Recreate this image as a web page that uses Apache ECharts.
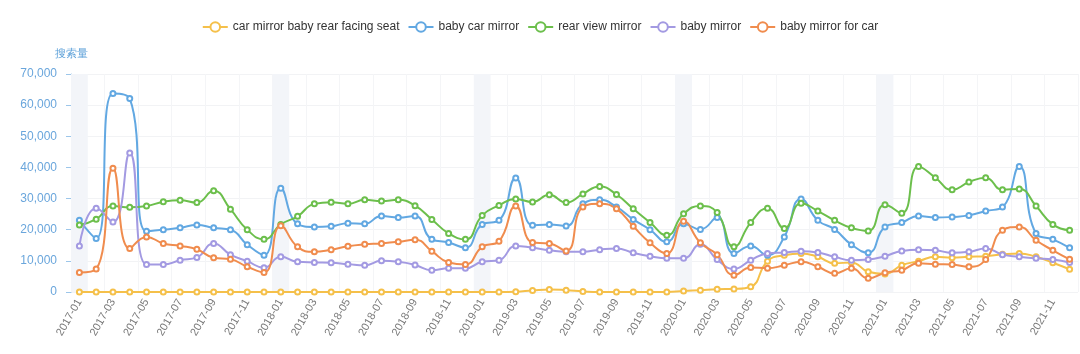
<!DOCTYPE html>
<html>
<head>
<meta charset="utf-8">
<script src="https://cdn.jsdelivr.net/npm/echarts@6/dist/echarts.min.js"></script>
<style>html,body{margin:0;padding:0;background:#fff}#c{width:1080px;height:354px}</style>
</head>
<body>
<div id="c"></div>
<script>
const categories = [];
for (let y = 2017; y <= 2021; y++) for (let m = 1; m <= 12; m++) categories.push(y + '-' + (m < 10 ? '0' + m : m));

const seriesNames = ['car mirror baby rear facing seat', 'baby car mirror', 'rear view mirror', 'baby mirror', 'baby mirror for car'];

const carMirrorBabyRearFacingSeat = [
  0,0,0,0,0,0,0,0,0,0,0,0,
  0,0,0,0,0,0,0,0,0,0,0,0,
  0,0,100,500,800,600,200,0,0,0,0,0,
  300,600,900,1000,1700,9900,11800,12400,11300,9200,9500,6500,
  5800,8600,9900,11300,11000,11300,11500,12100,12400,11300,9400,7300
];
const babyCarMirror = [
  23000,17200,63700,62100,19500,20000,20600,21500,20600,20000,15200,11800,
  33300,21900,20900,21100,22100,21900,24400,23900,24400,16900,15900,14200,
  21700,23000,36600,21400,21700,21200,28300,29600,27300,23300,20000,16100,
  21900,20100,23900,12400,14800,11800,17700,29900,23000,20100,15200,12600,
  20900,22300,24400,23900,24100,24600,26000,27300,40300,18800,16900,14200
];
const rearViewMirror = [
  21500,23400,27600,27200,27600,29000,29500,28700,32500,26600,20000,16900,
  21700,24300,28300,28800,28300,29600,29200,29600,27700,23300,18800,16900,
  24600,27800,29900,28900,31200,28700,31500,33900,31300,26700,22300,18200,
  25100,27600,25500,14500,22300,26900,20400,28500,26000,23000,20600,19600,
  28000,25300,40300,36700,32800,35300,36700,32800,33100,27600,21700,19800
];
const babyMirror = [
  14800,26900,22500,44600,8850,8850,10200,11100,15600,12000,9900,7800,
  11300,9700,9500,9400,8950,8600,10000,9700,8700,7000,7600,7600,
  9700,10200,14800,14200,13400,12900,12900,13600,14000,12600,11500,10800,
  10800,15300,10400,7400,10200,12400,12700,13100,12700,11300,10200,10400,
  11500,13200,13600,13400,12600,12900,14000,12000,11300,10800,10400,9500
];
const babyMirrorForCar = [
  6300,7350,39700,14000,17700,15600,14800,13700,11000,10500,8100,6300,
  21300,14500,12900,13600,14700,15300,15600,16100,16800,13100,9500,8850,
  14500,16300,27600,15900,15600,13200,27300,28300,26700,21100,15800,12400,
  22700,15800,12000,5400,7900,7600,8600,9700,8100,6000,7600,4400,
  6200,7000,9200,8950,8850,8100,10400,19800,20900,16600,13400,10500
];

const yMin = 0, yMax = 70000, yInterval = 10000;
const colors = ['#f5c04a', '#62a8e2', '#6cbf4c', '#a39ae2', '#f08c4e'];
const bandData = categories.map(c => c.endsWith('-01') ? yMax : '-');

const valueSets = [carMirrorBabyRearFacingSeat, babyCarMirror, rearViewMirror, babyMirror, babyMirrorForCar];

const chart = echarts.init(document.getElementById('c'));
chart.setOption({
  animation: false,
  color: colors,
  textStyle: { fontFamily: 'Liberation Sans, Arial, sans-serif' },
  legend: {
    data: seriesNames,
    top: 16,
    left: 'center',
    itemGap: 8,
    itemHeight: 12,
    textStyle: { color: '#333', fontSize: 12 }
  },
  grid: { left: 71, right: 2, top: 74, bottom: 62, containLabel: false },
  xAxis: {
    type: 'category',
    data: categories,
    boundaryGap: true,
    axisLine: { show: false },
    axisTick: { show: false },
    axisLabel: { interval: 1, rotate: 60, color: '#7a7a7a', fontSize: 11, margin: 8 },
    splitLine: { show: true, interval: 1, lineStyle: { color: '#f4f5f7' } }
  },
  yAxis: {
    type: 'value',
    min: yMin, max: yMax, interval: yInterval,
    name: '搜索量',
    nameTextStyle: { color: '#5a9fd8', fontSize: 11 },
    axisLine: { show: true, lineStyle: { color: '#9cc6ea' } },
    axisTick: { show: true, lineStyle: { color: '#9cc6ea' } },
    axisLabel: { color: '#6aa6dc', fontSize: 12, margin: 14, formatter: v => v.toLocaleString('en-US') },
    splitLine: { show: true, lineStyle: { color: '#f2f3f5' } }
  },
  series: [
    {
      name: 'band', type: 'bar', data: bandData, barWidth: '100%', silent: true, z: 0,
      itemStyle: { color: '#f3f5f9' }, legendHoverLink: false
    }
  ].concat(seriesNames.map((n, i) => ({
    name: n, type: 'line', data: valueSets[i], smooth: true,
    symbol: 'emptyCircle', symbolSize: 5, showSymbol: true,
    lineStyle: { width: 2 }, z: 3
  })))
});
</script>
</body>
</html>
